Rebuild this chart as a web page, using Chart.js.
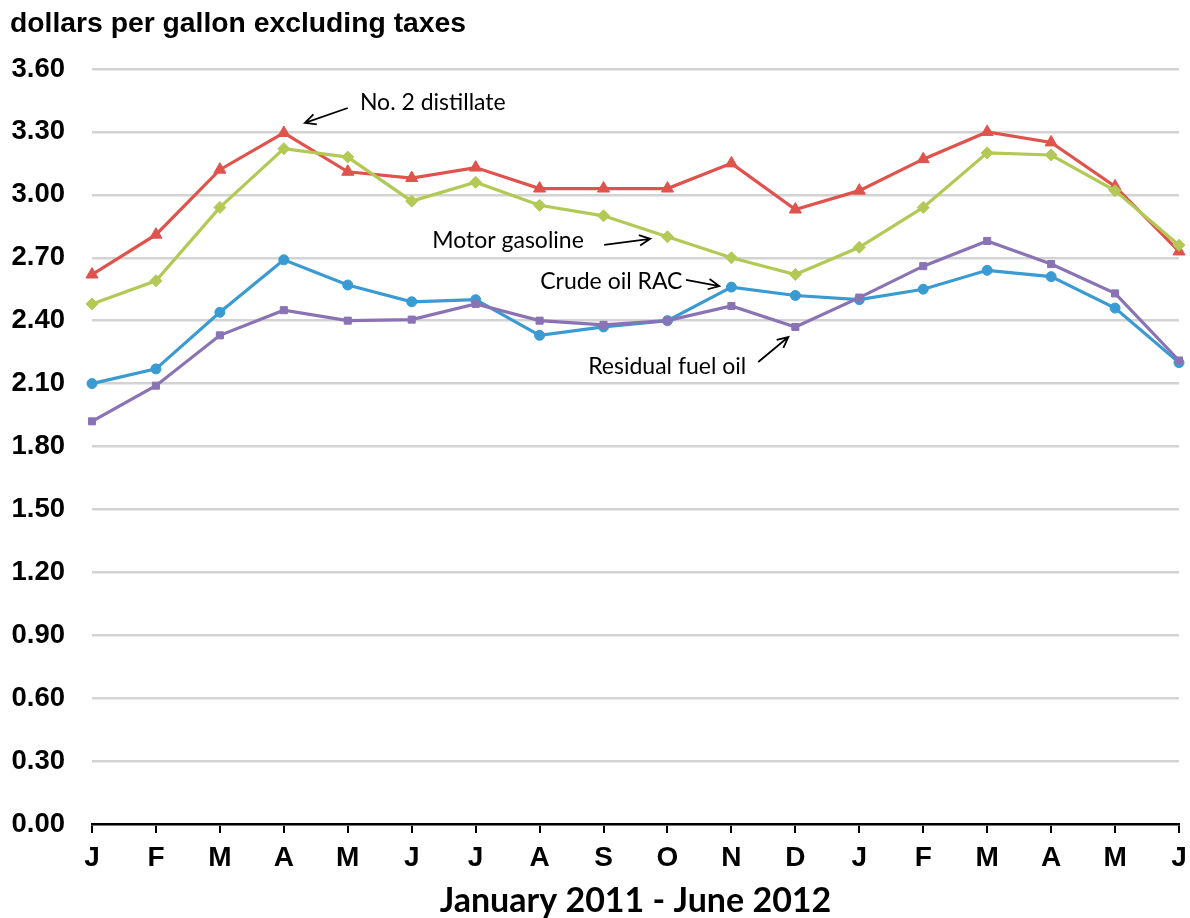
<!DOCTYPE html>
<html>
<head>
<meta charset="utf-8">
<script src="https://cdn.jsdelivr.net/npm/chart.js@4"></script>
<style>
  html, body { margin: 0; padding: 0; background: #fff; }
  #chart { display: block; }
</style>
</head>
<body>
<canvas id="chart" width="1190" height="918"></canvas>
<script>
// months, January 2011 - June 2012
const months = ['J', 'F', 'M', 'A', 'M', 'J', 'J', 'A', 'S', 'O', 'N', 'D', 'J', 'F', 'M', 'A', 'M', 'J'];

// dollars per gallon excluding taxes
const distillate = [2.62, 2.81, 3.12, 3.295, 3.11, 3.08, 3.13, 3.03, 3.03, 3.03, 3.15, 2.93, 3.02, 3.17, 3.30, 3.25, 3.04, 2.73];
const gasoline = [2.48, 2.59, 2.94, 3.22, 3.18, 2.97, 3.06, 2.95, 2.90, 2.80, 2.70, 2.62, 2.75, 2.94, 3.20, 3.19, 3.02, 2.76];
const crudeRAC = [2.10, 2.17, 2.44, 2.69, 2.57, 2.49, 2.50, 2.33, 2.37, 2.40, 2.56, 2.52, 2.50, 2.55, 2.64, 2.61, 2.46, 2.20];
const residual = [1.92, 2.09, 2.33, 2.45, 2.40, 2.405, 2.48, 2.40, 2.38, 2.40, 2.47, 2.37, 2.51, 2.66, 2.78, 2.67, 2.53, 2.21];

const yTicks = [0, 0.3, 0.6, 0.9, 1.2, 1.5, 1.8, 2.1, 2.4, 2.7, 3.0, 3.3, 3.6];

// series labels with arrows, placed in data units (x = month index, y = dollars)
const callouts = [
  { text: 'No. 2 distillate', tx: 4.19, ty: 3.438, ax: 4.00, ay: 3.414, hx: 3.33, hy: 3.343 },
  { text: 'Motor gasoline', tx: 5.32, ty: 2.780, ax: 8.01, ay: 2.761, hx: 8.73, hy: 2.790 },
  { text: 'Crude oil RAC', tx: 7.01, ty: 2.584, ax: 9.29, ay: 2.594, hx: 9.81, hy: 2.565 },
  { text: 'Residual fuel oil', tx: 7.76, ty: 2.179, ax: 10.42, ay: 2.203, hx: 10.89, hy: 2.322 }
];

const unitTitle = 'dollars per gallon excluding taxes';
const periodTitle = 'January 2011 - June 2012';

const calloutPlugin = {
  id: 'callouts',
  afterDraw(chart) {
    const ctx = chart.ctx;
    const xs = chart.scales.x, ys = chart.scales.y;
    const px = v => xs.left + (xs.right - xs.left) * v / (months.length - 1);
    ctx.save();
    // unit title at top left
    ctx.fillStyle = '#000';
    ctx.font = 'bold 28.3px "Liberation Sans", Arial, sans-serif';
    ctx.textAlign = 'left';
    ctx.textBaseline = 'middle';
    ctx.fillText(unitTitle, 10, 24);

    ctx.font = '23px Lato, "Open Sans", sans-serif';
    ctx.strokeStyle = '#000';
    ctx.lineWidth = 1.8;
    for (const c of callouts) {
      ctx.fillText(c.text, px(c.tx), ys.getPixelForValue(c.ty));
      const x1 = px(c.ax), y1 = ys.getPixelForValue(c.ay);
      const x2 = px(c.hx), y2 = ys.getPixelForValue(c.hy);
      const ang = Math.atan2(y2 - y1, x2 - x1);
      const len = 12, spread = 0.45;
      ctx.beginPath();
      ctx.moveTo(x1, y1);
      ctx.lineTo(x2, y2);
      ctx.moveTo(x2 - len * Math.cos(ang - spread), y2 - len * Math.sin(ang - spread));
      ctx.lineTo(x2, y2);
      ctx.lineTo(x2 - len * Math.cos(ang + spread), y2 - len * Math.sin(ang + spread));
      ctx.stroke();
    }
    ctx.restore();
  }
};

const series = (data, color, style, radius) => ({
  data: data,
  borderColor: color,
  backgroundColor: color,
  borderWidth: 3.2,
  pointStyle: style,
  pointRadius: radius,
  pointBorderWidth: 1,
  tension: 0
});

new Chart(document.getElementById('chart'), {
  type: 'line',
  data: {
    labels: months,
    datasets: [
      series(residual, '#8A73B4', 'rect', 5),
      series(crudeRAC, '#3A9AD2', 'circle', 5),
      series(gasoline, '#B2C955', 'rectRot', 6),
      series(distillate, '#E0534D', 'triangle', 7)
    ]
  },
  options: {
    responsive: false,
    animation: false,
    devicePixelRatio: 1,
    layout: { padding: { left: 0, right: 11, top: 69, bottom: 0 } },
    plugins: { legend: { display: false }, tooltip: { enabled: false } },
    scales: {
      x: {
        offset: false,
        afterFit: s => { s.height = 94; s.paddingLeft = 0; s.paddingRight = 0; },
        grid: { drawOnChartArea: false, drawTicks: true, tickLength: 9, color: '#000', lineWidth: 2 },
        border: { display: true, color: '#000', width: 2.5 },
        ticks: {
          color: '#000', padding: 8, maxRotation: 0, autoSkip: false,
          font: { family: '"Liberation Sans", Arial, sans-serif', size: 28, weight: 'bold' }
        },
        title: {
          display: true, text: periodTitle, color: '#000', padding: { top: 0, bottom: -3 },
          font: { family: 'Lato, "Open Sans", sans-serif', size: 34, weight: 'bold' }
        }
      },
      y: {
        min: 0, max: 3.6,
        afterFit: s => { s.width = 92; },
        afterBuildTicks: s => { s.ticks = yTicks.map(v => ({ value: v })); },
        grid: { color: '#D3D3D3', lineWidth: 2.5, drawTicks: false },
        border: { display: false },
        ticks: {
          color: '#000', padding: 27,
          callback: v => v.toFixed(2),
          font: { family: '"Liberation Sans", Arial, sans-serif', size: 27.5, weight: 'bold' }
        }
      }
    }
  },
  plugins: [calloutPlugin]
});
</script>
</body>
</html>
